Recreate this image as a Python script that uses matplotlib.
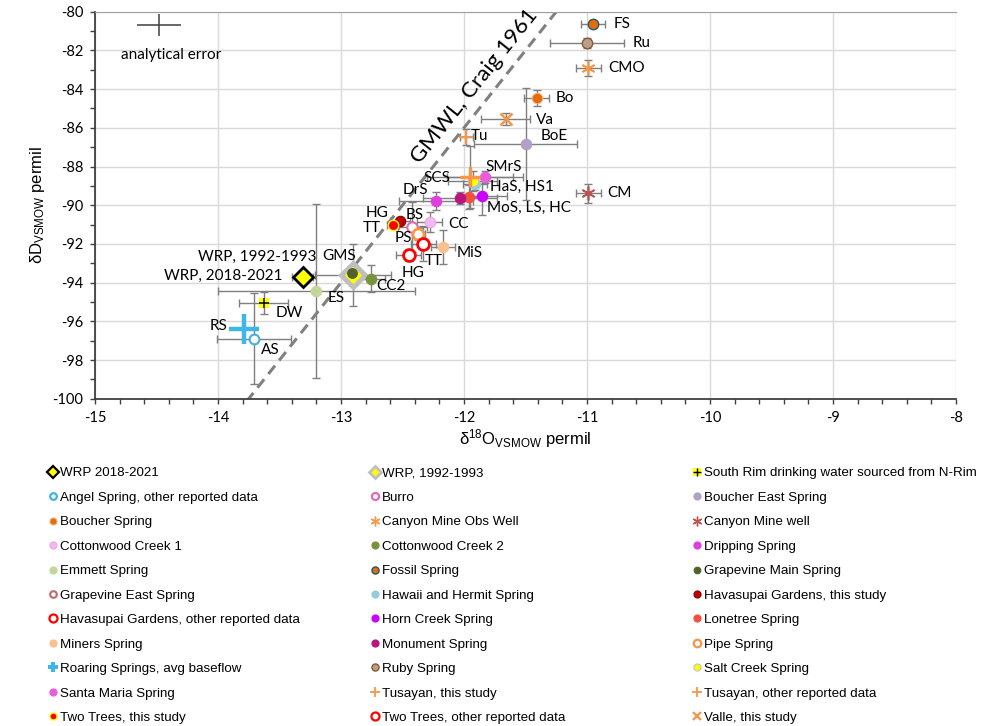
import numpy as np
import matplotlib.pyplot as plt
from matplotlib.lines import Line2D
from matplotlib.ticker import MultipleLocator

plt.rcParams['font.family'] = ['Liberation Sans', 'DejaVu Sans']
plt.rcParams['mathtext.fontset'] = 'custom'
plt.rcParams['mathtext.rm'] = 'Liberation Sans'
plt.rcParams['mathtext.it'] = 'Liberation Sans:italic'
plt.rcParams['axes.unicode_minus'] = False

# stable isotope data, one entry per series (d18O, dD, 1-sigma errors, permil)
series = [
    'WRP 2018-2021', 'WRP, 1992-1993', 'South Rim drinking water sourced from N-Rim',
    'Angel Spring, other reported data', 'Burro', 'Boucher East Spring',
    'Boucher Spring', 'Canyon Mine Obs Well', 'Canyon Mine well',
    'Cottonwood Creek 1', 'Cottonwood Creek 2', 'Dripping Spring',
    'Emmett Spring', 'Fossil Spring', 'Grapevine Main Spring',
    'Grapevine East Spring', 'Hawaii and Hermit Spring', 'Havasupai Gardens, this study',
    'Havasupai Gardens, other reported data', 'Horn Creek Spring', 'Lonetree Spring',
    'Miners Spring', 'Monument Spring', 'Pipe Spring',
    'Roaring Springs, avg baseflow', 'Ruby Spring', 'Salt Creek Spring',
    'Santa Maria Spring', 'Tusayan, this study', 'Tusayan, other reported data',
    'Two Trees, this study', 'Two Trees, other reported data', 'Valle, this study',
]
d18o = [-13.31, -12.90, -13.63, -13.71, -12.42, -11.50, -11.41, -10.99, -10.99,
        -12.28, -12.76, -12.23, -13.20, -10.95, -12.91, -12.91, -11.91, -12.52,
        -12.45, -11.85, -11.96, -12.17, -12.03, -12.37, -13.79, -11.00, -11.93,
        -11.83, -11.98, -11.95, -12.58, -12.33, -11.66]
dD = [-93.71, -93.61, -95.05, -96.91, -91.13, -86.84, -84.46, -82.91, -89.38,
      -90.87, -93.81, -89.78, -94.43, -80.64, -93.50, -93.50, -88.90, -90.82,
      -92.57, -89.52, -89.58, -92.16, -89.63, -91.49, -96.40, -81.62, -88.75,
      -88.54, -86.48, -88.54, -91.03, -92.00, -85.55]
d18o_err = [0.085, 0.31, 0.20, 0.30, 0.12, 0.42, 0.10, 0.10, 0.10,
            0.10, 0.12, 0.30, 0.80, 0.10, 0.05, 0.05, 0.10, 0.08,
            0.10, 0.20, 0.10, 0.10, 0.30, 0.05, 0.0, 0.30, 0.20,
            0.31, 0.05, 0.35, 0.05, 0.10, 0.20]
dD_err = [0.15, 1.58, 0.57, 2.35, 1.30, 2.90, 0.40, 0.40, 0.50,
          0.50, 0.70, 0.47, 4.50, 0.12, 0.20, 0.20, 0.30, 0.15,
          0.30, 1.00, 0.60, 0.90, 0.30, 0.30, 0.0, 0.28, 0.50,
          0.30, 0.40, 1.60, 0.10, 0.90, 0.30]

# point labels: series -> (text, dx px, dy px, ha)
point_labels = {
    'WRP 2018-2021': ('WRP, 2018-2021', -20, 1, 'right'),
    'WRP, 1992-1993': ('WRP, 1992-1993', -37, 18, 'right'),
    'South Rim drinking water sourced from N-Rim': ('DW', 26, -10, 'center'),
    'Angel Spring, other reported data': ('AS', 17, -11, 'center'),
    'Roaring Springs, avg baseflow': ('RS', -25, 3, 'center'),
    'Burro': ('BS', 2, 12, 'center'),
    'Boucher East Spring': ('BoE', 29, 8, 'center'),
    'Boucher Spring': ('Bo', 28, 0, 'center'),
    'Canyon Mine Obs Well': ('CMO', 38, 0, 'center'),
    'Canyon Mine well': ('CM', 31, 0, 'center'),
    'Cottonwood Creek 1': ('CC', 29, -2, 'center'),
    'Cottonwood Creek 2': ('CC2', 20, -7, 'center'),
    'Dripping Spring': ('DrS', -20, 11, 'center'),
    'Emmett Spring': ('ES', 20, -7, 'center'),
    'Fossil Spring': ('FS', 29, 0, 'center'),
    'Grapevine Main Spring': ('GMS', -13, 17, 'center'),
    'Hawaii and Hermit Spring': ('HaS, HS1', 47, -3, 'center'),
    'Havasupai Gardens, this study': ('HG', -23, 8, 'center'),
    'Havasupai Gardens, other reported data': ('HG', 4, -18, 'center'),
    'Horn Creek Spring': ('MoS, LS, HC', 47, -12, 'center'),
    'Miners Spring': ('MiS', 27, -6, 'center'),
    'Pipe Spring': ('PS', -15, -4, 'center'),
    'Ruby Spring': ('Ru', 55, 0, 'center'),
    'Salt Creek Spring': ('SCS', -36, 3, 'center'),
    'Santa Maria Spring': ('SMrS', 19, 10, 'center'),
    'Tusayan, this study': ('Tu', 13, 1, 'center'),
    'Two Trees, this study': ('TT', -21, -3, 'center'),
    'Two Trees, other reported data': ('TT', 10, -17, 'center'),
    'Valle, this study': ('Va', 39, -1, 'center'),
}

ORANGE = '#F79646'
asterisk = (6, 2, 0)


def circ(face, edge=None, ms=7.5, mew=0.8):
    return dict(marker='o', ms=ms, mfc=face, mec=edge or face, mew=mew)


def ring(edge, ms=8.5, mew=2.0):
    return dict(marker='o', ms=ms, mfc='white', mec=edge, mew=mew)


styles = {
    'WRP 2018-2021': dict(marker='D', ms=10, mfc='#FFFF00', mec='black', mew=2),
    'WRP, 1992-1993': dict(marker='D', ms=12, mfc='#FFFF00', mec='#BFBFBF', mew=3.5),
    'South Rim drinking water sourced from N-Rim': dict(marker='s', ms=7.5, mfc='#FFFF00', mec='#FFFF00', mew=0),
    'Angel Spring, other reported data': ring('#3FB1E5', ms=7, mew=1.5),
    'Burro': ring('#E36AAE', ms=7.5, mew=1.5),
    'Boucher East Spring': circ('#B1A0C7'),
    'Boucher Spring': circ('#E46C0A', '#F4B183'),
    'Canyon Mine Obs Well': dict(marker=asterisk, ms=10, mfc=ORANGE, mec=ORANGE, mew=1.2),
    'Canyon Mine well': dict(marker=asterisk, ms=10, mfc='#C0504D', mec='#C0504D', mew=1.2),
    'Cottonwood Creek 1': circ('#F4B8F0', '#E9A8E4'),
    'Cottonwood Creek 2': circ('#77933C'),
    'Dripping Spring': circ('#DF3FDF'),
    'Emmett Spring': circ('#C4D79B'),
    'Fossil Spring': circ('#E46C0A', '#215968', mew=1.0),
    'Grapevine Main Spring': circ('#4F6228', ms=7),
    'Grapevine East Spring': ring('#C07070', ms=7, mew=1.2),
    'Hawaii and Hermit Spring': circ('#93CDDD'),
    'Havasupai Gardens, this study': circ('#C00000', '#8B0000'),
    'Havasupai Gardens, other reported data': ring('#FF0000'),
    'Horn Creek Spring': circ('#CC00FF'),
    'Lonetree Spring': circ('#F4503F'),
    'Miners Spring': circ('#FAC090'),
    'Monument Spring': circ('#B8167F'),
    'Pipe Spring': ring(ORANGE, ms=8, mew=2.0),
    'Roaring Springs, avg baseflow': dict(marker='+', ms=21, mfc='#3DB7EA', mec='#3DB7EA', mew=3.2),
    'Ruby Spring': circ('#B8A090', '#8B5A2B', mew=1.0),
    'Salt Creek Spring': circ('#FFFF00', '#C0C0C0'),
    'Santa Maria Spring': circ('#EB5CDB'),
    'Tusayan, this study': dict(marker='+', ms=10, mfc=ORANGE, mec=ORANGE, mew=1.5),
    'Tusayan, other reported data': dict(marker='+', ms=14, mfc=ORANGE, mec=ORANGE, mew=2.5),
    'Two Trees, this study': circ('#FF0000', '#FFFF00', mew=1.0),
    'Two Trees, other reported data': ring('#FF0000'),
    'Valle, this study': dict(marker='x', ms=9, mfc=ORANGE, mec=ORANGE, mew=1.8),
}
zorders = {'Grapevine East Spring': 2.5}

# legend symbols drawn smaller than the plotted markers
legend_styles = {name: dict(st) for name, st in styles.items()}
for name, st in legend_styles.items():
    st['ms'] = min(st['ms'] * 0.68, 7)
    if st['marker'] == 'o' and st['mfc'] == 'white':
        st['mew'] = 1.6
legend_styles['WRP 2018-2021'].update(ms=6, mew=1.6)
legend_styles['WRP, 1992-1993'].update(ms=6.5, mew=2.0)
legend_styles['Roaring Springs, avg baseflow'] = dict(marker='P', ms=7, mfc='#3DB7EA', mec='#3DB7EA', mew=0)
legend_styles['Tusayan, this study'].update(ms=7, mew=1.3)
legend_styles['Tusayan, other reported data'].update(ms=7, mew=1.3)
legend_styles['Canyon Mine Obs Well'].update(ms=7, mew=1.0)
legend_styles['Canyon Mine well'].update(ms=7, mew=1.0)
legend_styles['Valle, this study'].update(ms=6, mew=1.6)

W, H = 982, 726
fig = plt.figure(figsize=(W / 100, H / 100), dpi=100)
ax = fig.add_axes([95 / W, 1 - 398.7 / H, (956 - 95) / W, (398.7 - 11.7) / H])

ax.set_xlim(-15, -8)
ax.set_ylim(-100, -80)

# global meteoric water line
gx = np.array([-15.0, -8.0])
ax.plot(gx, 8 * gx + 10, ls=(0, (3.5, 2.2)), color='#808080', lw=2.2, zorder=1.5)

# analytical error cross
ax.errorbar(-14.48, -80.71, xerr=0.18, yerr=0.57, fmt='none', ecolor='#404040',
            elinewidth=1.1, capsize=0, zorder=3)
ax.text(-14.378, -82.24, 'analytical error', ha='center', va='center',
        fontsize=11, family='Lato')

for i, name in enumerate(series):
    if d18o_err[i] > 0 or dD_err[i] > 0:
        ax.errorbar(d18o[i], dD[i], xerr=d18o_err[i], yerr=dD_err[i], fmt='none',
                    ecolor='#7F7F7F', elinewidth=1, capsize=3, capthick=1, zorder=2)

for i, name in enumerate(series):
    z = zorders.get(name, 3 + i * 0.01)
    ax.plot(d18o[i], dD[i], ls='none', zorder=z, **styles[name])
    if name == 'South Rim drinking water sourced from N-Rim':
        ax.plot(d18o[i], dD[i], ls='none', marker='+', ms=7.5, mec='black', mew=1.1, zorder=z + 0.001)
    if name in point_labels:
        txt, dx, dy, ha = point_labels[name]
        ax.annotate(txt, (d18o[i], dD[i]), xytext=(dx, dy), textcoords='offset pixels',
                    ha=ha, va='center', fontsize=11, family='Lato', zorder=6)

# GMWL label along the line
p0 = ax.transData.transform((-11.8, 8 * -11.8 + 10))
p1 = ax.transData.transform((-11.0, 8 * -11.0 + 10))
ang = np.degrees(np.arctan2(p1[1] - p0[1], p1[0] - p0[0]))
ax.annotate('GMWL, Craig 1961', (-11.8, 8 * -11.8 + 10), xytext=(-14, 11),
            textcoords='offset pixels', rotation=ang, rotation_mode='anchor',
            ha='center', va='center', fontsize=16, family='Lato')

ax.xaxis.set_major_locator(MultipleLocator(1))
ax.xaxis.set_minor_locator(MultipleLocator(0.2))
ax.yaxis.set_major_locator(MultipleLocator(2))
ax.yaxis.set_minor_locator(MultipleLocator(1))
ax.tick_params(which='both', direction='out', length=3.5, width=1, color='#404040')
ax.tick_params(labelsize=10.5, pad=5)
for lab in ax.get_xticklabels() + ax.get_yticklabels():
    lab.set_family('Lato')
ax.grid(True, which='major', color='#D9D9D9', lw=1)
ax.set_axisbelow(True)
for s in ['left', 'bottom']:
    ax.spines[s].set_color('#404040')
    ax.spines[s].set_linewidth(1.3)
ax.spines['right'].set_visible(False)
ax.spines['top'].set_color('#A0A0A0')
ax.spines['top'].set_linestyle((0, (1, 1)))

ax.set_xlabel('δ$^{18}$O$_{\\mathrm{VSMOW}}$ permil', fontsize=12, labelpad=2)
ax.set_ylabel('δD$_{\\mathrm{VSMOW}}$ permil', fontsize=12, labelpad=4)

# legend: three columns laid out row by row
col_x = [52.7, 375.0, 696.7]
leg_fs = 9.6
fs_px = leg_fs * 100 / 72
for k in range(3):
    names = series[k::3]
    handles = []
    for n in names:
        h = Line2D([], [], ls='none', **legend_styles[n])
        if n == 'South Rim drinking water sourced from N-Rim':
            h = (h, Line2D([], [], ls='none', marker='+', ms=6, mec='black', mew=1.0))
        handles.append(h)
    fig.legend(handles, names, loc='upper left',
               bbox_to_anchor=((col_x[k] - 0.25 * fs_px) / W, 1 - 467 / H),
               frameon=False, fontsize=leg_fs, handlelength=0.5, handletextpad=0.3,
               labelspacing=0.91, borderpad=0, borderaxespad=0)

fig.savefig('out.png', dpi=100)
